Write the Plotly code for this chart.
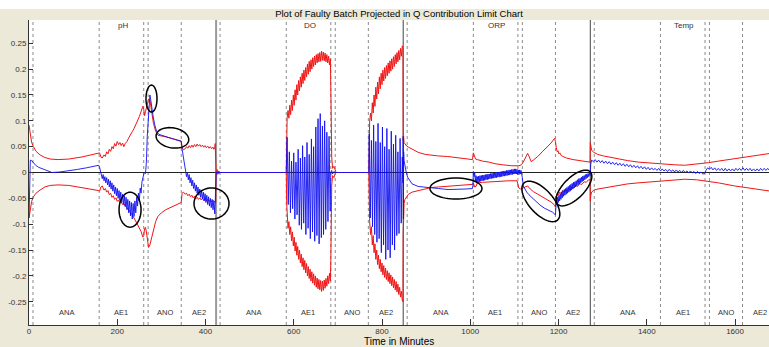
import math
import plotly.graph_objects as go

# ---------------- data ----------------
VARIABLES = ["pH", "DO", "ORP", "Temp"]
PHASES = ["ANA", "AE1", "ANO", "AE2"]
BATCH_LEN = 424
PHASE_LINES = [9, 159, 260, 270, 345]
PHASE_LABEL_T = [84, 209, 308, 385]
VAR_LABEL_T = 212
X_TICKS = [0, 200, 400, 600, 800, 1000, 1200, 1400, 1600]
Y_TICKS = [-0.25, -0.2, -0.15, -0.1, -0.05, 0, 0.05, 0.1, 0.15, 0.2, 0.25]
Y_TICK_LABELS = ["-0.25", "-0.2", "-0.15", "-0.1", "-0.05", "0", "0.05", "0.1", "0.15", "0.2", "0.25"]

# (minutes within batch, value)
ph_upper = [
    (0, 0.092), (3, 0.072), (6, 0.058), (10, 0.050), (16, 0.041), (25, 0.034), (36, 0.029), (48, 0.026),
    (66, 0.025), (90, 0.026), (120, 0.030), (145, 0.035), (158, 0.038), (160, 0.038), (163, 0.030), (166, 0.028),
    (170, 0.034), (173, 0.031), (176, 0.040), (179, 0.036), (182, 0.045), (185, 0.041), (188, 0.050), (191, 0.046),
    (194, 0.056), (197, 0.051), (200, 0.060), (203, 0.054), (206, 0.058), (209, 0.052), (212, 0.057), (215, 0.050),
    (218, 0.056), (222, 0.060), (226, 0.067), (230, 0.072), (234, 0.079), (238, 0.085), (242, 0.092), (246, 0.100),
    (250, 0.108), (254, 0.118), (258, 0.128), (260, 0.122), (262, 0.110), (264, 0.118), (266, 0.125), (268, 0.135),
    (271, 0.142), (274, 0.140), (278, 0.115), (282, 0.095), (287, 0.080), (292, 0.072), (310, 0.069), (330, 0.065),
    (345, 0.061), (347, 0.048), (350, 0.044), (354, 0.046), (357, 0.050), (360, 0.047), (363, 0.052), (366, 0.048),
    (369, 0.053), (372, 0.049), (375, 0.054), (378, 0.050), (381, 0.055), (384, 0.051), (387, 0.054), (390, 0.050),
    (393, 0.053), (396, 0.049), (399, 0.052), (402, 0.048), (405, 0.051), (408, 0.047), (411, 0.050), (414, 0.046),
    (417, 0.049), (419, 0.045), (421, 0.047), (422, 0.056), (423, 0.030), (424, 0.0)]
ph_lower = [
    (0, -0.088), (3, -0.068), (6, -0.056), (10, -0.047), (16, -0.040), (25, -0.034), (36, -0.028), (48, -0.025),
    (66, -0.024), (90, -0.025), (120, -0.029), (145, -0.033), (158, -0.035), (160, -0.036), (163, -0.028), (166, -0.026),
    (170, -0.034), (173, -0.031), (176, -0.038), (179, -0.035), (182, -0.043), (185, -0.040), (188, -0.048), (191, -0.045),
    (194, -0.052), (197, -0.049), (200, -0.056), (203, -0.053), (206, -0.059), (209, -0.057), (212, -0.062), (215, -0.060),
    (218, -0.065), (222, -0.068), (226, -0.072), (230, -0.077), (234, -0.082), (238, -0.088), (242, -0.094), (246, -0.100),
    (250, -0.106), (254, -0.114), (258, -0.125), (260, -0.122), (262, -0.108), (264, -0.106), (266, -0.115), (268, -0.130),
    (271, -0.145), (274, -0.140), (278, -0.125), (282, -0.110), (287, -0.095), (292, -0.085), (300, -0.078), (310, -0.072),
    (320, -0.068), (330, -0.064), (340, -0.060), (345, -0.058), (347, -0.040), (350, -0.038), (354, -0.042), (357, -0.040),
    (360, -0.045), (363, -0.042), (366, -0.047), (369, -0.044), (372, -0.049), (375, -0.046), (378, -0.051), (381, -0.048),
    (384, -0.052), (387, -0.049), (390, -0.053), (393, -0.050), (396, -0.054), (399, -0.051), (402, -0.055), (405, -0.052),
    (408, -0.056), (411, -0.053), (414, -0.057), (417, -0.054), (420, -0.056), (423, -0.058), (424, 0.0)]
ph_q = [
    (0, -0.088), (2, 0.000), (3, 0.024), (6, 0.023), (10, 0.018), (15, 0.014), (22, 0.010), (30, 0.007), (40, 0.004),
    (52, 0.000), (70, 0.001), (90, 0.003), (110, 0.006), (130, 0.009), (150, 0.012), (158, 0.014), (160, 0.010),
    (162, 0.000), (164, -0.004), (166, -0.012), (168, -0.004), (170, -0.016), (172, -0.008), (174, -0.020), (176, -0.010),
    (178, -0.024), (180, -0.013), (182, -0.028), (184, -0.016), (186, -0.032), (188, -0.020), (190, -0.036), (192, -0.024),
    (194, -0.041), (196, -0.028), (198, -0.045), (200, -0.031), (202, -0.050), (204, -0.035), (206, -0.054), (208, -0.038),
    (210, -0.058), (212, -0.042), (214, -0.062), (216, -0.045), (218, -0.066), (220, -0.048), (222, -0.072), (224, -0.052),
    (226, -0.078), (228, -0.055), (230, -0.084), (232, -0.058), (234, -0.090), (236, -0.060), (238, -0.085), (240, -0.055),
    (242, -0.078), (244, -0.048), (246, -0.065), (248, -0.040), (250, -0.055), (252, -0.030), (254, -0.040), (256, -0.018),
    (258, -0.010), (261, 0.000), (264, -0.002), (266, 0.020), (268, 0.070), (271, 0.120), (274, 0.150), (276, 0.140),
    (278, 0.125), (281, 0.110), (285, 0.092), (289, 0.080), (294, 0.074), (300, 0.072), (315, 0.068), (330, 0.064),
    (345, 0.060), (347, 0.045), (349, 0.035), (352, 0.015), (355, 0.002), (357, -0.008), (359, 0.000), (361, -0.014),
    (363, -0.004), (365, -0.020), (367, -0.010), (369, -0.026), (371, -0.015), (373, -0.031), (375, -0.020), (377, -0.036),
    (379, -0.024), (381, -0.040), (383, -0.028), (385, -0.044), (387, -0.032), (389, -0.048), (391, -0.035), (393, -0.051),
    (395, -0.038), (397, -0.055), (399, -0.041), (401, -0.058), (403, -0.044), (405, -0.062), (407, -0.047), (409, -0.065),
    (411, -0.050), (413, -0.068), (415, -0.052), (417, -0.072), (419, -0.055), (421, -0.080), (422, -0.060), (423, -0.040),
    (424, 0.0)]

do_upper = [
    (0, 0.0), (2, 0.006), (4, -0.003), (6, 0.003), (9, 0.0), (159, 0.0), (160, 0.060), (161, 0.105),
    (163, 0.120), (165, 0.105), (167, 0.130), (169, 0.112), (171, 0.140), (173, 0.120), (175, 0.150), (177, 0.130),
    (179, 0.160), (181, 0.140), (183, 0.170), (185, 0.150), (187, 0.178), (189, 0.158), (191, 0.185), (193, 0.165),
    (195, 0.192), (197, 0.172), (199, 0.198), (201, 0.178), (203, 0.203), (205, 0.185), (207, 0.210), (209, 0.190),
    (211, 0.215), (213, 0.195), (215, 0.218), (217, 0.200), (219, 0.222), (221, 0.205), (223, 0.225), (225, 0.208),
    (227, 0.228), (229, 0.212), (231, 0.230), (233, 0.214), (235, 0.232), (237, 0.215), (239, 0.235), (241, 0.217),
    (243, 0.233), (245, 0.216), (247, 0.231), (249, 0.214), (251, 0.228), (253, 0.212), (255, 0.225), (257, 0.208),
    (259, 0.220), (260, 0.180), (261, 0.100), (262, 0.030), (264, 0.008), (267, 0.012), (270, 0.003), (272, 0.0),
    (346, 0.0), (347, 0.060), (348, 0.100), (350, 0.115), (352, 0.100), (354, 0.135), (356, 0.115), (358, 0.150),
    (360, 0.128), (362, 0.165), (364, 0.142), (366, 0.175), (368, 0.152), (370, 0.185), (372, 0.162), (374, 0.192),
    (376, 0.170), (378, 0.198), (380, 0.177), (382, 0.203), (384, 0.182), (386, 0.207), (388, 0.187), (390, 0.212),
    (392, 0.192), (394, 0.216), (396, 0.196), (398, 0.220), (400, 0.200), (402, 0.224), (404, 0.205), (406, 0.228),
    (408, 0.210), (410, 0.232), (412, 0.214), (414, 0.236), (416, 0.218), (418, 0.240), (420, 0.225), (422, 0.245),
    (423.5, 0.240)]
do_lower = [
    (0, 0.0), (2, -0.004), (4, 0.003), (6, -0.002), (9, 0.0), (159, 0.0), (160, -0.060), (161, -0.095),
    (163, -0.108), (165, -0.095), (167, -0.120), (169, -0.105), (171, -0.132), (173, -0.115), (175, -0.142), (177, -0.125),
    (179, -0.152), (181, -0.135), (183, -0.160), (185, -0.143), (187, -0.168), (189, -0.150), (191, -0.175), (193, -0.158),
    (195, -0.182), (197, -0.165), (199, -0.188), (201, -0.170), (203, -0.194), (205, -0.176), (207, -0.200), (209, -0.182),
    (211, -0.205), (213, -0.187), (215, -0.210), (217, -0.192), (219, -0.214), (221, -0.196), (223, -0.218), (225, -0.200),
    (227, -0.222), (229, -0.204), (231, -0.225), (233, -0.207), (235, -0.227), (237, -0.209), (239, -0.230), (241, -0.210),
    (243, -0.228), (245, -0.208), (247, -0.224), (249, -0.205), (251, -0.220), (253, -0.200), (255, -0.215), (257, -0.195),
    (259, -0.210), (260, -0.170), (261, -0.090), (262, -0.025), (264, -0.006), (267, -0.010), (270, -0.002), (272, 0.0),
    (346, 0.0), (347, -0.060), (348, -0.095), (350, -0.120), (352, -0.105), (354, -0.140), (356, -0.122), (358, -0.155),
    (360, -0.138), (362, -0.168), (364, -0.150), (366, -0.178), (368, -0.160), (370, -0.186), (372, -0.168), (374, -0.192),
    (376, -0.175), (378, -0.198), (380, -0.180), (382, -0.203), (384, -0.185), (386, -0.207), (388, -0.190), (390, -0.211),
    (392, -0.194), (394, -0.215), (396, -0.198), (398, -0.219), (400, -0.202), (402, -0.223), (404, -0.207), (406, -0.227),
    (408, -0.211), (410, -0.231), (412, -0.216), (414, -0.236), (416, -0.222), (418, -0.241), (420, -0.230), (422, -0.248),
    (423.5, -0.250)]
do_q = [
    (0, 0.0), (159, 0.0), (160, 0.020),
    (161, 0.068), (163.5, -0.062), (166, 0.040), (168.5, -0.078), (171, 0.022), (173.5, -0.070), (176, 0.038),
    (178.5, -0.090), (181, 0.020), (183.5, -0.082), (186, 0.045), (188.5, -0.102), (191, 0.028), (193.5, -0.110),
    (196, 0.052), (198.5, -0.098), (201, 0.030), (203.5, -0.120), (206, 0.058), (208.5, -0.108), (211, 0.035),
    (213.5, -0.128), (216, 0.065), (218.5, -0.115), (221, 0.050), (223.5, -0.133), (226, 0.088), (228.5, -0.122),
    (231, 0.104), (233.5, -0.138), (236, 0.114), (238.5, -0.126), (241, 0.090), (243.5, -0.120), (246, 0.100),
    (248.5, -0.110), (251, 0.078), (253.5, -0.095), (256, 0.070), (258.5, -0.075),
    (260, 0.0), (262, 0.004), (264, -0.003), (267, 0.002), (270, 0.0), (346, 0.0),
    (347, 0.075), (349.5, -0.088), (352, 0.062), (354.5, -0.105), (357, 0.092), (359.5, -0.120), (362, 0.060),
    (364.5, -0.135), (367, 0.095), (369.5, -0.128), (372, 0.058), (374.5, -0.155), (377, 0.088), (379.5, -0.140),
    (382, 0.050), (384.5, -0.168), (387, 0.085), (389.5, -0.150), (392, 0.045), (394.5, -0.165), (397, 0.080),
    (399.5, -0.140), (402, 0.055), (404.5, -0.150), (407, 0.072), (409.5, -0.122), (412, 0.040), (414.5, -0.118),
    (417, 0.066), (419.5, -0.098), (422, 0.030), (423.5, -0.020)]

orp_upper = [
    (0, 0.062), (1, 0.070), (2, 0.058), (4, 0.055), (8, 0.051), (12, 0.049), (20, 0.045), (34, 0.039), (50, 0.035),
    (64, 0.033), (80, 0.032), (100, 0.031), (120, 0.029), (140, 0.027), (157, 0.025), (159, 0.038), (161, 0.033),
    (164, 0.026), (168, 0.025), (180, 0.022), (195, 0.020), (208, 0.017), (225, 0.015), (246, 0.013), (262, 0.013),
    (268, 0.015), (272, 0.020), (277, 0.030), (282, 0.037), (286, 0.030), (290, 0.021), (295, 0.024), (305, 0.031),
    (315, 0.040), (325, 0.048), (335, 0.057), (343, 0.066), (345, 0.060), (347, 0.048), (349, 0.040), (351, 0.042),
    (353, 0.036), (355, 0.038), (358, 0.033), (362, 0.031), (370, 0.028), (385, 0.025), (400, 0.023), (410, 0.021),
    (420, 0.020), (423.5, 0.020)]
orp_lower = [
    (0, -0.120), (2, -0.060), (4, -0.052), (8, -0.046), (12, -0.042), (20, -0.038), (34, -0.035), (50, -0.031),
    (64, -0.029), (80, -0.028), (100, -0.027), (120, -0.026), (140, -0.024), (157, -0.023), (159, -0.020), (162, -0.028),
    (165, -0.027), (168, -0.020), (180, -0.019), (208, -0.017), (240, -0.016), (258, -0.016), (262, -0.030), (266, -0.032),
    (272, -0.030), (278, -0.027), (282, -0.026), (288, -0.032), (295, -0.037), (305, -0.042), (315, -0.047), (325, -0.052),
    (335, -0.057), (343, -0.063), (345, -0.067), (347, -0.045), (349, -0.040), (352, -0.043), (355, -0.038), (358, -0.041),
    (361, -0.035), (364, -0.038), (367, -0.033), (370, -0.036), (374, -0.031), (378, -0.033), (382, -0.028), (386, -0.030),
    (390, -0.025), (395, -0.027), (400, -0.022), (405, -0.023), (410, -0.018), (415, -0.019), (420, -0.014), (423.5, -0.014)]
orp_q = [
    (0, 0.070), (0.5, -0.090), (1, 0.040), (2, 0.023), (4, 0.012), (7, 0.000), (10, -0.009), (15, -0.017), (20, -0.022),
    (34, -0.027), (50, -0.028), (64, -0.029), (80, -0.031), (102, -0.033), (120, -0.033), (140, -0.032), (157, -0.031),
    (158, -0.025), (159, 0.002), (160.5, -0.008), (162, 0.000), (163.5, -0.018), (165, -0.006), (166.5, -0.020),
    (168, -0.008), (169.5, -0.019), (171, -0.007), (172.5, -0.018), (174, -0.006), (175.5, -0.017), (177, -0.006),
    (178.5, -0.016), (180, -0.005), (181.5, -0.016), (183, -0.005), (184.5, -0.015), (186, -0.004), (187.5, -0.014),
    (189, -0.004), (190.5, -0.014), (192, -0.003), (193.5, -0.013), (195, -0.003), (196.5, -0.012), (198, -0.002),
    (199.5, -0.012), (201, -0.002), (202.5, -0.011), (204, -0.001), (205.5, -0.011), (207, -0.001), (208.5, -0.010),
    (210, 0.000), (211.5, -0.010), (213, 0.000), (214.5, -0.009), (216, 0.001), (217.5, -0.009), (219, 0.001),
    (220.5, -0.008), (222, 0.002), (223.5, -0.008), (225, 0.002), (226.5, -0.007), (228, 0.003), (229.5, -0.007),
    (231, 0.003), (232.5, -0.006), (234, 0.004), (235.5, -0.006), (237, 0.004), (238.5, -0.005), (240, 0.005),
    (241.5, -0.005), (243, 0.005), (244.5, -0.004), (246, 0.006), (247.5, -0.004), (249, 0.006), (250.5, -0.003),
    (252, 0.007), (253.5, -0.003), (255, 0.007), (256.5, -0.003), (258, 0.006), (259.5, -0.004), (261, 0.005),
    (262.5, -0.004), (264, 0.005), (265.5, -0.003), (267, 0.004), (268.5, -0.002), (270, -0.010), (272, -0.026),
    (276, -0.033), (280, -0.038), (285, -0.043), (293, -0.050), (300, -0.056), (310, -0.063), (320, -0.069),
    (330, -0.073), (339, -0.077), (345, -0.082), (346, -0.060), (347, -0.054), (348.5, -0.062), (350, -0.048),
    (351.5, -0.058), (353, -0.044), (354.5, -0.055), (356, -0.041), (357.5, -0.052), (359, -0.038), (360.5, -0.049),
    (362, -0.035), (363.5, -0.046), (365, -0.033), (366.5, -0.044), (368, -0.031), (369.5, -0.042), (371, -0.029),
    (372.5, -0.040), (374, -0.027), (375.5, -0.038), (377, -0.025), (378.5, -0.036), (380, -0.023), (381.5, -0.034),
    (383, -0.021), (384.5, -0.032), (386, -0.019), (387.5, -0.030), (389, -0.018), (390.5, -0.028), (392, -0.016),
    (393.5, -0.026), (395, -0.014), (396.5, -0.024), (398, -0.012), (399.5, -0.022), (401, -0.011), (402.5, -0.020),
    (404, -0.009), (405.5, -0.018), (407, -0.007), (408.5, -0.016), (410, -0.006), (411.5, -0.014), (413, -0.004),
    (414.5, -0.012), (416, -0.003), (417.5, -0.010), (419, -0.002), (420.5, -0.008), (422, 0.000), (423.5, -0.006)]

temp_upper = [
    (0, 0.058), (1, 0.050), (3, 0.043), (8, 0.039), (17, 0.035), (30, 0.032), (47, 0.029), (65, 0.026), (85, 0.023),
    (110, 0.020), (135, 0.018), (161, 0.016), (190, 0.015), (214, 0.014), (240, 0.016), (259, 0.018), (268, 0.019),
    (290, 0.022), (327, 0.027), (360, 0.031), (390, 0.035), (424, 0.039)]
temp_lower = [
    (0, -0.055), (1, -0.045), (3, -0.038), (8, -0.034), (17, -0.032), (30, -0.030), (47, -0.028), (65, -0.025),
    (85, -0.022), (110, -0.020), (135, -0.018), (161, -0.016), (190, -0.014), (214, -0.013), (240, -0.014),
    (259, -0.016), (268, -0.017), (290, -0.020), (327, -0.026), (360, -0.030), (390, -0.034), (424, -0.038)]
temp_q = [
    (0, -0.004), (1, 0.016), (3, 0.024), (7, 0.021), (11, 0.025), (15, 0.020), (19, 0.024), (23, 0.019), (27, 0.023),
    (31, 0.018), (35, 0.022), (39, 0.017), (43, 0.021), (47, 0.016), (51, 0.020), (55, 0.015), (59, 0.019), (63, 0.014),
    (67, 0.018), (71, 0.013), (75, 0.017), (79, 0.012), (83, 0.016), (87, 0.011), (91, 0.015), (95, 0.010), (99, 0.014),
    (103, 0.009), (107, 0.013), (111, 0.008), (115, 0.012), (119, 0.007), (123, 0.011), (127, 0.006), (131, 0.010),
    (135, 0.005), (139, 0.009), (143, 0.005), (147, 0.008), (151, 0.004), (155, 0.008), (159, 0.003), (163, 0.007),
    (167, 0.003), (171, 0.006), (175, 0.002), (179, 0.006), (183, 0.002), (187, 0.005), (191, 0.001), (195, 0.005),
    (199, 0.001), (203, 0.004), (207, 0.000), (211, 0.004), (215, 0.000), (219, 0.003), (223, -0.001), (227, 0.003),
    (231, -0.001), (235, 0.002), (239, -0.002), (243, 0.002), (247, -0.002), (251, 0.001), (255, -0.003), (259, -0.002),
    (262, 0.004), (266, 0.009), (270, 0.006), (274, 0.010), (278, 0.005), (282, 0.009), (286, 0.004), (290, 0.008),
    (294, 0.004), (298, 0.008), (302, 0.003), (306, 0.008), (310, 0.003), (314, 0.007), (318, 0.003), (322, 0.007),
    (326, 0.003), (330, 0.008), (334, 0.004), (338, 0.008), (342, 0.004), (346, 0.009), (350, 0.004), (354, 0.008),
    (358, 0.004), (362, 0.008), (366, 0.003), (370, 0.007), (374, 0.003), (378, 0.007), (382, 0.003), (386, 0.008),
    (390, 0.004), (394, 0.008), (398, 0.004), (402, 0.008), (406, 0.004), (410, 0.007)]

UPPER = [ph_upper, do_upper, orp_upper, temp_upper]
LOWER = [ph_lower, do_lower, orp_lower, temp_lower]
QCONT = [ph_q, do_q, orp_q, temp_q]

# ---------------- layout constants ----------------
W, H = 769, 347
M_L, M_R, M_T, M_B = 29, 0, 20, 22
X_RANGE = [0, 1677]
Y_RANGE = [-0.295, 0.295]
BEIGE = "#ECE9D8"
FONT = "Liberation Sans, Arial, sans-serif"

# annotation ellipses: (centre minute, centre value, semi-axis a px, semi-axis b px, rotation deg clockwise)
ELLIPSES = [
    (277.6, 0.143, 5.5, 13.5, 0),
    (325.0, 0.067, 16.5, 10.0, 10),
    (229.0, -0.072, 11.0, 17.5, 0),
    (413.6, -0.060, 17.5, 15.5, 0),
    (967.6, -0.031, 26.0, 10.5, 0),
    (1160.0, -0.056, 25.0, 12.0, 48),
    (1235.0, -0.030, 23.0, 10.5, -45),
]


def combine(segments):
    xs, ys = [], []
    for i, seg in enumerate(segments):
        off = i * BATCH_LEN
        for t, v in seg:
            xs.append(off + t)
            ys.append(v)
    return xs, ys


fig = go.Figure()
for segs, col, w in [(UPPER, "#F01515", 1), (LOWER, "#F01515", 1), (QCONT, "#1010F0", 0.9)]:
    xs, ys = combine(segs)
    fig.add_trace(go.Scatter(x=xs, y=ys, mode="lines", line=dict(color=col, width=w),
                             hoverinfo="skip", showlegend=False))

shapes = []
for i in range(len(VARIABLES)):
    off = i * BATCH_LEN
    for p in PHASE_LINES:
        shapes.append(dict(type="line", xref="x", yref="paper", x0=off + p, x1=off + p, y0=0, y1=1,
                           line=dict(color="#8a8a8a", width=1, dash="dot"), layer="below"))
    if i > 0:
        shapes.append(dict(type="line", xref="x", yref="paper", x0=off, x1=off, y0=0, y1=1,
                           line=dict(color="#9a9a9a" if i == 1 else "#444444", width=2 if i == 1 else 1),
                           layer="below"))

sx = (W - M_L - M_R) / (X_RANGE[1] - X_RANGE[0])
sy = (H - M_T - M_B) / (Y_RANGE[1] - Y_RANGE[0])
for ct, cv, a, b, ang in ELLIPSES:
    th = math.radians(ang)
    pts = []
    for k in range(61):
        phi = 2 * math.pi * k / 60
        dx = a * math.cos(phi) * math.cos(th) - b * math.sin(phi) * math.sin(th)
        dy = a * math.cos(phi) * math.sin(th) + b * math.sin(phi) * math.cos(th)
        pts.append((ct + dx / sx, cv - dy / sy))
    path = "M " + " L ".join(f"{x:.3f},{y:.5f}" for x, y in pts) + " Z"
    shapes.append(dict(type="path", xref="x", yref="y", path=path,
                       line=dict(color="black", width=1.5), layer="above"))

PLOT_H = H - M_T - M_B
shapes.append(dict(type="rect", xref="paper", yref="paper", x0=-0.1, x1=1.1,
                   y0=1 + (M_T - 9) / PLOT_H, y1=1 + (M_T + 5) / PLOT_H,
                   fillcolor="white", line=dict(width=0), layer="below"))

annotations = []
for i, var in enumerate(VARIABLES):
    off = i * BATCH_LEN
    annotations.append(dict(x=off + VAR_LABEL_T, y=0.2835, xref="x", yref="y", text=var, showarrow=False,
                            font=dict(family=FONT, size=8, color="#333333")))
    for ph_name, tpos in zip(PHASES, PHASE_LABEL_T):
        if off + tpos <= X_RANGE[1]:
            annotations.append(dict(x=off + tpos, y=-0.27, xref="x", yref="y", text=ph_name, showarrow=False,
                                    font=dict(family=FONT, size=7.5, color="#333333")))
annotations.append(dict(x=0.5, y=-(16 / PLOT_H), xref="paper", yref="paper", text="Time in Minutes",
                        showarrow=False, yanchor="middle", font=dict(family=FONT, size=10, color="black")))

fig.update_layout(
    width=W, height=H,
    margin=dict(l=M_L, r=M_R, t=M_T, b=M_B, pad=0),
    paper_bgcolor=BEIGE, plot_bgcolor="white",
    showlegend=False,
    title=dict(text="Plot of Faulty Batch Projected in Q Contribution Limit Chart",
               x=0.5, xref="paper", y=1 - 14 / H, yref="container", yanchor="middle", xanchor="center",
               font=dict(family=FONT, size=9.5, color="black")),
    xaxis=dict(range=X_RANGE, tickvals=X_TICKS, ticks="inside", ticklen=6, tickcolor="#333333",
               showline=True, linecolor="#333333", linewidth=1, showgrid=False, zeroline=False,
               ticklabelstandoff=-2,
               tickfont=dict(family=FONT, size=8, color="#333333")),
    yaxis=dict(range=Y_RANGE, tickvals=Y_TICKS, ticktext=Y_TICK_LABELS, ticks="inside", ticklen=4,
               tickcolor="#333333", showline=True, linecolor="#333333", linewidth=1, showgrid=False,
               zeroline=True, zerolinecolor="#222222", zerolinewidth=1,
               tickfont=dict(family=FONT, size=8, color="#333333")),
    shapes=shapes, annotations=annotations,
)

fig.write_html("out.html",
               config={"displayModeBar": False},
               post_script="document.body.style.margin='0';document.body.style.overflow='hidden';")
